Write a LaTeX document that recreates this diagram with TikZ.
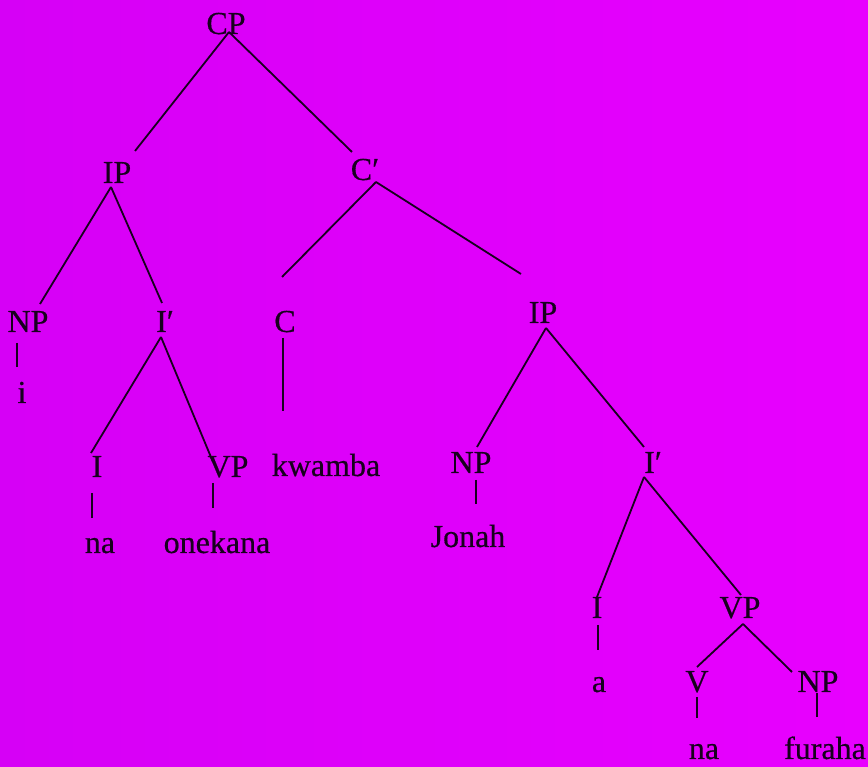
\documentclass[tikz,border=0pt]{standalone}
\usepackage{fontspec}
\setmainfont{Liberation Serif}
\newfontfamily\scanfont{Liberation Serif}[FakeBold=0.5]
\usetikzlibrary{positioning}
\definecolor{bgmag}{RGB}{232,0,255}
\definecolor{bgmagdark}{RGB}{214,0,246}
\definecolor{ink}{RGB}{24,0,30}
\newcommand{\primebar}{\char"2032}
\begin{document}
\begin{tikzpicture}[x=1pt, y=1pt,
    lbl/.style={inner sep=0pt, anchor=base, text=ink, font=\scanfont\fontsize{32}{38}\selectfont},
    branch/.style={ink, line width=1.8pt}]
    % background
    \useasboundingbox (0,0) rectangle (868,767);
    \shade[left color=bgmagdark, right color=bgmag] (0,0) rectangle (868,767);

    % labels
    \node[lbl] (CP) at (226,733) {CP};
    \node[lbl] (IP1) at (117,584) {IP};
    \node[lbl] (Cbar) at (365,587) {C\primebar};
    \node[lbl] (NP1) at (28,435) {NP};
    \node[lbl] (Ibar1) at (165,435) {I\primebar};
    \node[lbl] (C) at (285,435) {C};
    \node[lbl] (i) at (22,364) {i};
    \node[lbl] (I1) at (97,290) {I};
    \node[lbl] (VP1) at (228,290) {VP};
    \node[lbl] (kwamba) at (326,291) {kwamba};
    \node[lbl] (na1) at (100,214) {na};
    \node[lbl] (onekana) at (217,214) {onekana};
    \node[lbl] (IP2) at (543,444) {IP};
    \node[lbl] (NP2) at (471,294) {NP};
    \node[lbl] (Ibar2) at (653,294) {I\primebar};
    \node[lbl] (Jonah) at (468,220) {Jonah};
    \node[lbl] (I2) at (597,149) {I};
    \node[lbl] (VP2) at (740,149) {VP};
    \node[lbl] (a) at (599,75) {a};
    \node[lbl] (V) at (697,75) {V};
    \node[lbl] (NP3) at (818,75) {NP};
    \node[lbl] (na2) at (704,8) {na};
    \node[lbl] (furaha) at (825,8) {furaha};

    % branches
    \draw[branch] ([xshift=3pt,yshift=2pt]CP.base) -- ([xshift=18pt,yshift=32pt]IP1.base);
    \draw[branch] ([xshift=3pt,yshift=2pt]CP.base) -- ([xshift=-13pt,yshift=28pt]Cbar.base);
    \draw[branch] ([xshift=-6pt,yshift=-4pt]IP1.base) -- ([xshift=12pt,yshift=28pt]NP1.base);
    \draw[branch] ([xshift=-6pt,yshift=-4pt]IP1.base) -- ([xshift=-3pt,yshift=29pt]Ibar1.base);
    \draw[branch] ([xshift=11pt,yshift=-2pt]Cbar.base) -- ([xshift=-3pt,yshift=55pt]C.base);
    \draw[branch] ([xshift=11pt,yshift=-2pt]Cbar.base) -- ([xshift=-22pt,yshift=49pt]IP2.base);
    \draw[branch] ([xshift=-4pt,yshift=-5pt]Ibar1.base) -- ([xshift=-6pt,yshift=24pt]I1.base);
    \draw[branch] ([xshift=-4pt,yshift=-5pt]Ibar1.base) -- ([xshift=-15pt,yshift=15pt]VP1.base);
    \draw[branch] ([xshift=3pt,yshift=-5pt]IP2.base) -- ([xshift=6pt,yshift=26pt]NP2.base);
    \draw[branch] ([xshift=3pt,yshift=-5pt]IP2.base) -- ([xshift=-9pt,yshift=26pt]Ibar2.base);
    \draw[branch] ([xshift=-9pt,yshift=-4pt]Ibar2.base) -- ([yshift=21pt]I2.base);
    \draw[branch] ([xshift=-9pt,yshift=-4pt]Ibar2.base) -- ([xshift=1pt,yshift=23pt]VP2.base);
    \draw[branch] ([xshift=3pt,yshift=-6pt]VP2.base) -- ([yshift=25pt]V.base);
    \draw[branch] ([xshift=3pt,yshift=-6pt]VP2.base) -- ([xshift=-26pt,yshift=20pt]NP3.base);

    % unary bars
    \draw[branch] ([xshift=-11pt,yshift=-11pt]NP1.base) -- ([xshift=-5pt,yshift=36pt]i.base);
    \draw[branch] ([xshift=-2pt,yshift=-6pt]C.base) -- ([xshift=-43pt,yshift=65pt]kwamba.base);
    \draw[branch] ([xshift=-5pt,yshift=-16pt]I1.base) -- ([xshift=-8pt,yshift=35pt]na1.base);
    \draw[branch] ([xshift=-15pt,yshift=-6pt]VP1.base) -- ([xshift=-4pt,yshift=45pt]onekana.base);
    \draw[branch] ([xshift=5pt,yshift=-7pt]NP2.base) -- ([xshift=8pt,yshift=43pt]Jonah.base);
    \draw[branch] ([xshift=1pt,yshift=-7pt]I2.base) -- ([xshift=-1pt,yshift=42pt]a.base);
    \draw[branch] ([yshift=-5pt]V.base) -- ([xshift=-7pt,yshift=41pt]na2.base);
    \draw[branch] ([xshift=-1pt,yshift=-1pt]NP3.base) -- ([xshift=-8pt,yshift=42pt]furaha.base);
\end{tikzpicture}
\end{document}
